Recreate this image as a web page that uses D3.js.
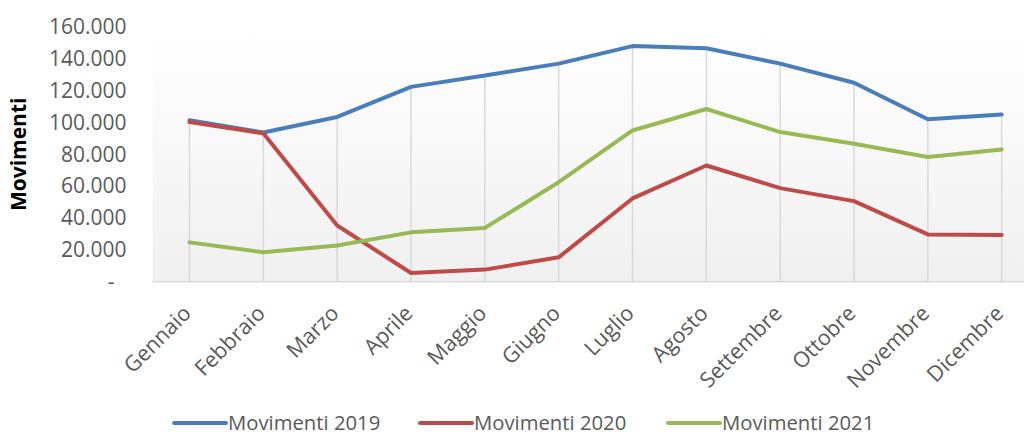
<!DOCTYPE html>
<html><head><meta charset="utf-8">
<script src="https://cdn.jsdelivr.net/npm/d3@7"></script>
<style>
html,body{margin:0;padding:0;background:#fff;}
svg{display:block;font-family:"Open Sans",sans-serif;}
</style></head>
<body>
<svg id="c" width="1024" height="435"></svg>
<script>
const months = ["Gennaio","Febbraio","Marzo","Aprile","Maggio","Giugno","Luglio","Agosto","Settembre","Ottobre","Novembre","Dicembre"];
const mov2019 = [101400, 93700, 103500, 122400, 129500, 137000, 148000, 146600, 137000, 125000, 102000, 105000];
const mov2020 = [100300, 93200, 35300, 5500, 7600, 15300, 52300, 73000, 58800, 50600, 29700, 29300];
const mov2021 = [24700, 18500, 22700, 31000, 33800, 62500, 95000, 108500, 94000, 86700, 78300, 83000];
const seriesNames = ["Movimenti 2019","Movimenti 2020","Movimenti 2021"];
const seriesColors = ["#4a7ebb","#be4b48","#98b954"];
const yTicks = [0,20000,40000,60000,80000,100000,120000,140000,160000];
const yTickLabels = ["-\u2007","20.000","40.000","60.000","80.000","100.000","120.000","140.000","160.000"];
const yTitle = "Movimenti";

const series = [mov2019, mov2020, mov2021];
const svg = d3.select("#c");
const plot = {left:152.6, right:1038.6, top:27, bottom:281.7};

const x = d3.scaleBand().domain(months).range([plot.left, plot.right]);
const cx = m => x(m) + x.bandwidth()/2;
const y = d3.scaleLinear().domain([0,160000]).range([plot.bottom, plot.top]);

const defs = svg.append("defs");
const g = defs.append("linearGradient").attr("id","bg").attr("x1",0).attr("y1",0).attr("x2",0).attr("y2",1);
g.append("stop").attr("offset","0%").attr("stop-color","#ffffff");
g.append("stop").attr("offset","15%").attr("stop-color","#fdfdfd");
g.append("stop").attr("offset","100%").attr("stop-color","#f0f0f0");

svg.append("rect").attr("x",plot.left).attr("y",plot.top)
  .attr("width",plot.right-plot.left).attr("height",plot.bottom-plot.top)
  .attr("fill","url(#bg)");

// drop lines
svg.append("g").selectAll("line").data(months).join("line")
  .attr("x1",d=>cx(d)).attr("x2",d=>cx(d))
  .attr("y1",(d,i)=>y(d3.max(series,s=>s[i])))
  .attr("y2",plot.bottom)
  .attr("stroke","#d9d9d9").attr("stroke-width",1.5);

// x axis
const xAxis = svg.append("g").attr("transform",`translate(0,${plot.bottom})`)
  .call(d3.axisBottom(x).tickSize(0).tickPadding(0));
xAxis.select(".domain").attr("stroke","#d9d9d9").attr("stroke-width",1.5)
  .attr("d",`M${plot.left},0H${plot.right}`);
xAxis.selectAll(".tick text")
  .attr("fill","#595959").attr("font-size","21.5px")
  .attr("font-family","Open Sans")
  .attr("text-anchor","end")
  .attr("dy",0).attr("y",0)
  .attr("transform","translate(3,33) rotate(-45)");

// y axis
const yAxis = svg.append("g").attr("transform",`translate(${plot.left},0)`)
  .call(d3.axisLeft(y).tickValues(yTicks).tickFormat((d,i)=>yTickLabels[i]).tickSize(0).tickPadding(26));
yAxis.select(".domain").remove();
yAxis.selectAll(".tick text").attr("fill","#595959").attr("font-size","21px")
  .attr("font-family","Open Sans").style("white-space","pre");

svg.append("text").attr("transform",`translate(26,${(plot.top+plot.bottom)/2+0}) rotate(-90)`)
  .attr("text-anchor","middle").attr("font-weight","bold").attr("font-size","21px")
  .attr("fill","#000").text(yTitle);

// lines
const line = d3.line().x((d,i)=>cx(months[i])).y(d=>y(d));
svg.append("g").selectAll("path").data(series).join("path")
  .attr("d",d=>line(d)).attr("fill","none")
  .attr("stroke",(d,i)=>seriesColors[i]).attr("stroke-width",4)
  .attr("stroke-linejoin","round").attr("stroke-linecap","round");

// legend
const legX = [174, 420, 668];
const leg = svg.append("g").selectAll("g").data(seriesNames).join("g")
  .attr("transform",(d,i)=>`translate(${legX[i]},423)`);
leg.append("line").attr("x1",0).attr("x2",52).attr("y1",0).attr("y2",0)
  .attr("stroke",(d,i)=>seriesColors[i]).attr("stroke-width",4).attr("stroke-linecap","round");
leg.append("text").attr("x",54).attr("dy","0.33em").attr("font-size","20.3px")
  .attr("fill","#595959").text(d=>d);
</script>
</body></html>
